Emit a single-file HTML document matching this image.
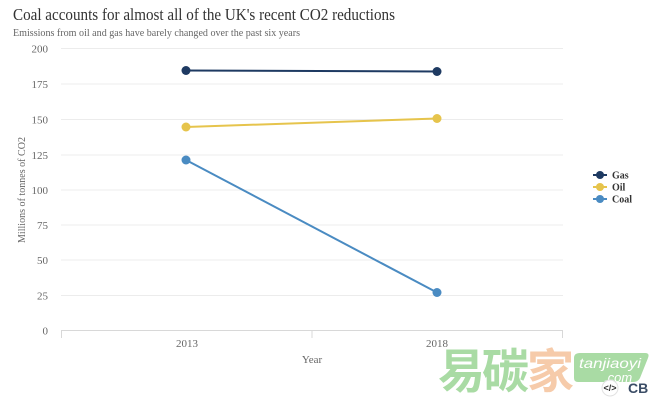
<!DOCTYPE html>
<html><head><meta charset="utf-8"><style>
html,body{margin:0;padding:0;background:#fff;}
svg{display:block;}
</style></head><body>
<svg width="655" height="405" viewBox="0 0 655 405" xmlns="http://www.w3.org/2000/svg" font-family="'Liberation Serif', serif">
<rect width="655" height="405" fill="#fff"/>
<text x="13" y="20" font-size="16.5" fill="#333" textLength="382" lengthAdjust="spacingAndGlyphs">Coal accounts for almost all of the UK's recent CO2 reductions</text>
<text x="13" y="36" font-size="10.5" fill="#666" textLength="287" lengthAdjust="spacingAndGlyphs">Emissions from oil and gas have barely changed over the past six years</text>
<g stroke="#ececec" stroke-width="1">
<line x1="61" x2="563" y1="48.5" y2="48.5"/>
<line x1="61" x2="563" y1="84" y2="84"/>
<line x1="61" x2="563" y1="119.5" y2="119.5"/>
<line x1="61" x2="563" y1="155" y2="155"/>
<line x1="61" x2="563" y1="190" y2="190"/>
<line x1="61" x2="563" y1="225" y2="225"/>
<line x1="61" x2="563" y1="260" y2="260"/>
<line x1="61" x2="563" y1="295.5" y2="295.5"/>
</g>
<g stroke="#d8d8d8" stroke-width="1">
<line x1="61" x2="563" y1="330.5" y2="330.5"/>
<line x1="61.5" x2="61.5" y1="330.5" y2="338"/>
<line x1="312" x2="312" y1="330.5" y2="338"/>
<line x1="562.5" x2="562.5" y1="330.5" y2="338"/>
</g>
<g font-size="11" fill="#666" text-anchor="end">
<text x="48" y="52.5">200</text>
<text x="48" y="88">175</text>
<text x="48" y="123.5">150</text>
<text x="48" y="159">125</text>
<text x="48" y="194">100</text>
<text x="48" y="229">75</text>
<text x="48" y="264">50</text>
<text x="48" y="299.5">25</text>
<text x="48" y="334.5">0</text>
</g>
<text transform="translate(25,190) rotate(-90)" font-size="11" fill="#666" text-anchor="middle" textLength="106" lengthAdjust="spacingAndGlyphs">Millions of tonnes of CO2</text>
<g font-size="11" fill="#666" text-anchor="middle">
<text x="187" y="347">2013</text>
<text x="437" y="347">2018</text>
<text x="312" y="363">Year</text>
</g>
<g stroke-width="2" fill="none">
<line x1="186" y1="70.5" x2="437" y2="71.5" stroke="#1e3a62"/>
<line x1="186" y1="127" x2="437" y2="118.5" stroke="#e6c44c"/>
<line x1="186" y1="160" x2="437" y2="292.5" stroke="#4a8bc2"/>
</g>
<circle cx="186" cy="70.5" r="4.5" fill="#1e3a62"/>
<circle cx="437" cy="71.5" r="4.5" fill="#1e3a62"/>
<circle cx="186" cy="127" r="4.5" fill="#e6c44c"/>
<circle cx="437" cy="118.5" r="4.5" fill="#e6c44c"/>
<circle cx="186" cy="160" r="4.5" fill="#4a8bc2"/>
<circle cx="437" cy="292.5" r="4.5" fill="#4a8bc2"/>
<g stroke-width="2">
<line x1="593" x2="607" y1="175" y2="175" stroke="#1e3a62"/>
<line x1="593" x2="607" y1="187" y2="187" stroke="#e6c44c"/>
<line x1="593" x2="607" y1="199" y2="199" stroke="#4a8bc2"/>
</g>
<circle cx="600" cy="175" r="4" fill="#1e3a62"/>
<circle cx="600" cy="187" r="4" fill="#e6c44c"/>
<circle cx="600" cy="199" r="4" fill="#4a8bc2"/>
<g font-size="10" font-weight="bold" fill="#333">
<text x="612" y="178.5">Gas</text>
<text x="612" y="190.5">Oil</text>
<text x="612" y="202.5">Coal</text>
</g>
<!-- watermark -->
<g font-family="'Noto Sans CJK SC', 'WenQuanYi Zen Hei', sans-serif" font-size="47" font-weight="bold">
<text x="438" y="388" fill="#a9dba4">易</text>
<text x="482" y="388" fill="#a9dba4">碳</text>
<text x="527" y="388" fill="#f6cbaa">家</text>
</g>
<path d="M580 353 L645 353 Q650 353 648 358 L640 378 Q638 382 633 382 L578 382 Q574 382 574 378 L574 358 Q574 353 580 353 Z" fill="#a9dba4"/>
<g font-family="'Liberation Sans', sans-serif" fill="#fff" font-style="italic">
<text x="579" y="368" font-size="14" textLength="62" lengthAdjust="spacingAndGlyphs">tanjiaoyi</text>
<text x="604" y="382" font-size="13">.com</text>
</g>
<circle cx="610" cy="388" r="8" fill="#fff" stroke="#e2e2e2" stroke-width="1"/>
<text x="610" y="391" font-family="'Liberation Sans', sans-serif" font-size="9" font-weight="bold" fill="#333" text-anchor="middle">&lt;/&gt;</text>
<text x="628" y="393" font-family="'Liberation Sans', sans-serif" font-size="14" font-weight="bold" fill="#3b4d66">CB</text>
</svg>
</body></html>
